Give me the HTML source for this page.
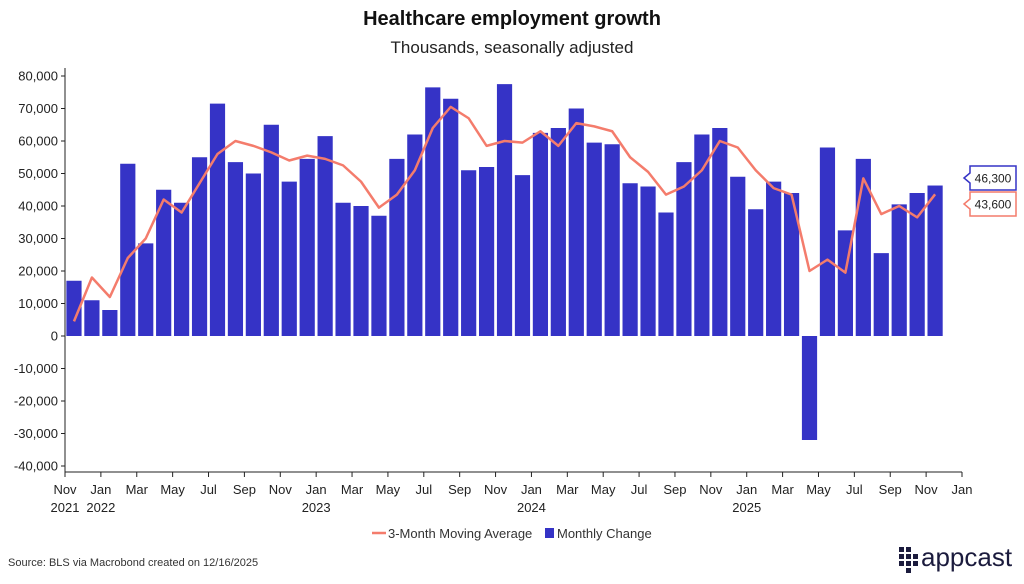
<!DOCTYPE html>
<html><head><meta charset="utf-8"><style>
body{margin:0;background:#fff;width:1024px;height:579px;overflow:hidden}
svg text{font-family:"Liberation Sans",sans-serif}
</style></head><body>
<svg id="chart" width="1024" height="579">
<text x="512" y="25" text-anchor="middle" font-size="20" font-weight="bold" fill="#111">Healthcare employment growth</text>
<text x="512" y="53" text-anchor="middle" font-size="17" fill="#222">Thousands, seasonally adjusted</text>
<g id="yaxis"></g>
<g id="xaxis"></g>
<g id="bars"></g>
<g id="line"></g>
<g id="tags"></g>
<g>
<line x1="372" y1="533" x2="386" y2="533" stroke="#f47c6c" stroke-width="2.5"/>
<text x="388" y="538" font-size="13" fill="#333">3-Month Moving Average</text>
<rect x="545" y="528" width="9" height="10" fill="#3533c6"/>
<text x="557" y="538" font-size="13" fill="#333">Monthly Change</text>
</g>
<text x="8" y="566" font-size="11" fill="#333">Source: BLS via Macrobond created on 12/16/2025</text>
<g fill="#1b1b3d" id="logo"></g>
<text x="921" y="566" font-size="26" fill="#1b1b3d">appcast</text>
</svg>
<script>
const monthlyChange=[17000,11000,8000,53000,28500,45000,41000,55000,71500,53500,50000,65000,47500,54500,61500,41000,40000,37000,54500,62000,76500,73000,51000,52000,77500,49500,62500,64000,70000,59500,59000,47000,46000,38000,53500,62000,64000,49000,39000,47500,44000,-32000,58000,32500,54500,25500,40500,44000,46300];
const movingAverage=[4500,18000,12000,24000,30000,42000,38000,47000,56000,60000,58500,56500,54000,55500,54500,52500,47500,39500,43500,51000,64000,70500,67000,58500,60000,59500,63000,58500,65500,64500,63000,55000,50500,43500,46000,51000,60000,58000,51000,45500,43500,20000,23500,19500,48500,37500,40000,36500,43600];
const yTicks=[80000,70000,60000,50000,40000,30000,20000,10000,0,-10000,-20000,-30000,-40000];
const xTickLabels=["Nov","Jan","Mar","May","Jul","Sep","Nov","Jan","Mar","May","Jul","Sep","Nov","Jan","Mar","May","Jul","Sep","Nov","Jan","Mar","May","Jul","Sep","Nov","Jan"];
const yearLabels=[["2021",0],["2022",2],["2023",14],["2024",26],["2025",38]];
const NS="http://www.w3.org/2000/svg";
const X0=65,MW=17.94,Y0=336,PX=3.25/1000;
const y=v=>Y0-v*PX; const xc=i=>X0+(i+0.5)*MW; const xm=m=>X0+m*MW;
function mk(t,a,p){const e=document.createElementNS(NS,t);for(const k in a)e.setAttribute(k,a[k]);p.appendChild(e);return e;}
const fmt=v=>v.toLocaleString('en-US');
const ya=document.getElementById('yaxis');
mk('line',{x1:X0,y1:68,x2:X0,y2:472,stroke:'#222','stroke-width':1},ya);
yTicks.forEach(v=>{
 const t=mk('text',{x:58,y:y(v)+4.5,'text-anchor':'end','font-size':13,fill:'#222'},ya);t.textContent=fmt(v);
 
 
 const l=mk('line',{x1:X0-4,y1:y(v),x2:X0,y2:y(v),stroke:'#222'},ya);
 
 
});
const xa=document.getElementById('xaxis');
mk('line',{x1:X0,y1:472,x2:xm(50),y2:472,stroke:'#222'},xa);
xTickLabels.forEach((s,k)=>{
 const xx=xm(k*2);
 const l=mk('line',{x1:xx,y1:472,x2:xx,y2:477,stroke:'#222'},xa);
 
 
 const t=mk('text',{x:xx,y:494,'text-anchor':'middle','font-size':13,fill:'#222'},xa);t.textContent=s;
 
 
});
yearLabels.forEach(([s,m])=>{
 const t=mk('text',{x:xm(m),y:512,'text-anchor':'middle','font-size':13,fill:'#222'},xa);t.textContent=s;
 
 
});
const bg=document.getElementById('bars');
monthlyChange.forEach((v,i)=>{
 const r=mk('rect',{x:xc(i)-7.6,y:Math.min(y(v),Y0),width:15.2,height:Math.abs(y(v)-Y0),fill:'#3533c6'},bg);
 
 
});
const lg=document.getElementById('line');
const p=mk('polyline',{points:movingAverage.map((v,i)=>xc(i)+','+y(v)).join(' '),fill:'none',stroke:'#f47c6c','stroke-width':2.5,'stroke-linejoin':'round'},lg);


const tg=document.getElementById('tags');
function tag(cy,val,col,name){
 const g=mk('g',{},tg);
 
 
 mk('path',{d:`M964,${cy} L970,${cy-5} L970,${cy-12} L1016,${cy-12} L1016,${cy+12} L970,${cy+12} L970,${cy+5} Z`,fill:'#fff',stroke:col,'stroke-width':1.5},g);
 const t=mk('text',{x:993,y:cy+4.5,'text-anchor':'middle','font-size':12,fill:'#222'},g);t.textContent=fmt(val);
}
tag(178,monthlyChange[monthlyChange.length-1],'#3533c6','last-value-tag-monthly');
tag(204,movingAverage[movingAverage.length-1],'#f47c6c','last-value-tag-average');
const lo=document.getElementById('logo');
[[0,0],[0,1],[0,2],[1,0],[1,1],[1,2],[1,3],[2,1],[2,2]].forEach(([c,r])=>mk('rect',{x:899+c*7,y:547+r*7,width:5,height:5},lo));
</script>
</body></html>
